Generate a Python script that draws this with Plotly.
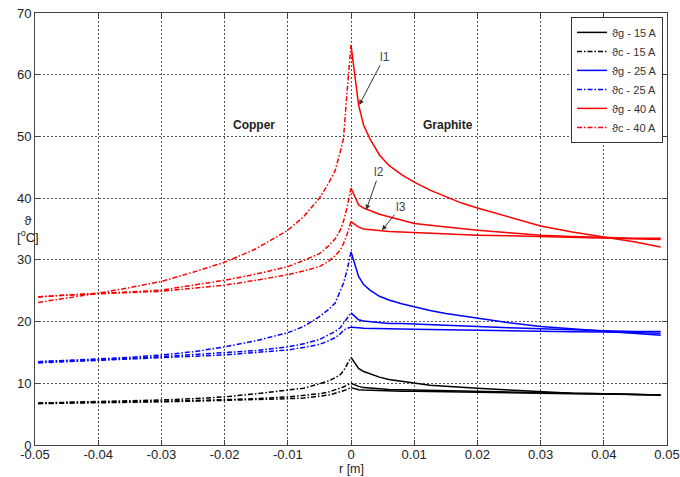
import plotly.graph_objects as go

# ---------------- data ----------------
# radial positions (m): graphite side (r >= 0) and copper side (r <= 0)
r_graphite = [0, 0.0006, 0.0012, 0.002, 0.003, 0.0045, 0.006, 0.008, 0.01, 0.0125,
              0.015, 0.0175, 0.02, 0.025, 0.03, 0.035, 0.04, 0.045, 0.049]
r_copper = [-0.0495, -0.045, -0.04, -0.035, -0.03, -0.025, -0.02, -0.015, -0.01,
            -0.0075, -0.005, -0.0035, -0.0025, -0.0017, -0.0012, -0.0006, 0]

# 15 A
g15_l1 = [14.2, 13.3, 12.4, 11.9, 11.5, 11.0, 10.6, 10.3, 10.0, 9.7, 9.5, 9.3, 9.2, 8.9, 8.6, 8.4, 8.3, 8.2, 8.1]
g15_l2 = [10.0, 9.7, 9.5, 9.3, 9.2, 9.1, 9.0, 8.95, 8.9, 8.85, 8.8, 8.75, 8.7, 8.6, 8.5, 8.4, 8.3, 8.2, 8.1]
g15_l3 = [9.3, 9.1, 8.95, 8.9, 8.85, 8.8, 8.75, 8.7, 8.7, 8.65, 8.6, 8.55, 8.5, 8.45, 8.4, 8.3, 8.25, 8.15, 8.1]
c15_l1 = [6.8, 6.9, 7.0, 7.1, 7.3, 7.5, 7.8, 8.3, 8.9, 9.2, 9.9, 10.4, 10.9, 11.4, 12.0, 13.0, 14.2]
c15_l2 = [6.8, 6.85, 6.9, 7.0, 7.1, 7.2, 7.35, 7.5, 7.8, 8.0, 8.3, 8.6, 8.9, 9.2, 9.4, 9.7, 10.0]
c15_l3 = [6.7, 6.75, 6.8, 6.9, 7.0, 7.1, 7.2, 7.3, 7.5, 7.6, 7.9, 8.1, 8.4, 8.6, 8.8, 9.0, 9.3]

# 25 A
g25_l1 = [31.3, 29.2, 27.3, 26.0, 25.1, 24.1, 23.5, 22.9, 22.4, 21.8, 21.3, 20.9, 20.5, 19.8, 19.2, 18.8, 18.4, 18.1, 17.8]
g25_l2 = [21.4, 20.8, 20.3, 20.1, 20.0, 19.8, 19.7, 19.7, 19.6, 19.5, 19.4, 19.3, 19.2, 19.0, 18.8, 18.6, 18.5, 18.4, 18.4]
g25_l3 = [19.1, 19.0, 19.0, 18.9, 18.9, 18.85, 18.8, 18.8, 18.75, 18.7, 18.7, 18.65, 18.6, 18.5, 18.4, 18.35, 18.3, 18.2, 18.1]
c25_l1 = [13.5, 13.7, 13.9, 14.2, 14.6, 15.1, 15.9, 16.9, 18.2, 19.2, 20.8, 22.0, 23.0, 25.0, 26.2, 28.4, 31.3]
c25_l2 = [13.5, 13.6, 13.8, 14.0, 14.3, 14.6, 14.9, 15.3, 15.9, 16.4, 17.1, 17.8, 18.4, 19.0, 19.7, 20.4, 21.4]
c25_l3 = [13.3, 13.5, 13.7, 13.9, 14.1, 14.3, 14.6, 15.0, 15.4, 15.8, 16.3, 16.9, 17.4, 18.0, 18.6, 18.9, 19.1]

# 40 A
g40_l1 = [64.8, 60.0, 55.1, 51.8, 49.6, 47.0, 45.3, 43.8, 42.6, 41.3, 40.2, 39.2, 38.4, 36.9, 35.5, 34.5, 33.7, 32.9, 32.1]
g40_l2 = [41.6, 40.2, 38.9, 38.4, 38.0, 37.4, 37.0, 36.4, 35.9, 35.6, 35.3, 35.0, 34.8, 34.4, 34.0, 33.8, 33.6, 33.5, 33.5]
g40_l3 = [36.2, 35.7, 35.3, 35.0, 34.9, 34.7, 34.6, 34.5, 34.4, 34.3, 34.2, 34.1, 34.0, 33.9, 33.8, 33.7, 33.6, 33.4, 33.3]
c40_l1 = [23.1, 23.8, 24.6, 25.5, 26.5, 28.0, 29.6, 31.8, 34.8, 37.0, 40.0, 42.5, 44.5, 47.5, 49.6, 57.5, 64.8]
c40_l2 = [24.0, 24.3, 24.6, 24.8, 25.1, 25.9, 26.7, 27.7, 28.9, 29.9, 31.0, 32.3, 33.4, 34.8, 36.2, 38.6, 41.6]
c40_l3 = [24.0, 24.3, 24.5, 24.7, 24.9, 25.4, 25.9, 26.7, 27.6, 28.2, 28.9, 29.8, 30.7, 31.6, 32.6, 34.2, 36.2]

currents = ["15 A", "25 A", "40 A"]
colors = ["#000000", "#0000ff", "#ff0000"]
graphite = [[g15_l1, g15_l2, g15_l3], [g25_l1, g25_l2, g25_l3], [g40_l1, g40_l2, g40_l3]]
copper = [[c15_l1, c15_l2, c15_l3], [c25_l1, c25_l2, c25_l3], [c40_l1, c40_l2, c40_l3]]

x_tickvals = [-0.05, -0.04, -0.03, -0.02, -0.01, 0, 0.01, 0.02, 0.03, 0.04, 0.05]
x_ticktext = ["-0.05", "-0.04", "-0.03", "-0.02", "-0.01", "0", "0.01", "0.02", "0.03", "0.04", "0.05"]
y_tickvals = [0, 10, 20, 30, 40, 50, 60, 70]

region_labels = [("Copper", -0.0153, 51.9), ("Graphite", 0.0153, 51.9)]
# (label, arrow head r, arrow head T, text r, text T)
curve_labels = [("l1", 0.0013, 55.1, 0.0053, 62.9),
                ("l2", 0.0024, 38.1, 0.0045, 44.2),
                ("l3", 0.0049, 34.8, 0.0079, 38.6)]

# ---------------- figure ----------------
DASHDOT = "5px,2px,1.5px,2px"
fig = go.Figure()

# legend traces first (l1 curves), in legend order
for i, cur in enumerate(currents):
    fig.add_trace(go.Scatter(x=r_graphite, y=graphite[i][0], mode="lines",
                             line=dict(color=colors[i], width=1.5),
                             name="ϑg - " + cur, showlegend=True))
    fig.add_trace(go.Scatter(x=r_copper, y=copper[i][0], mode="lines",
                             line=dict(color=colors[i], width=1.5, dash=DASHDOT),
                             name="ϑc - " + cur, showlegend=True))
for i, cur in enumerate(currents):
    for k in (1, 2):
        fig.add_trace(go.Scatter(x=r_graphite, y=graphite[i][k], mode="lines",
                                 line=dict(color=colors[i], width=1.5),
                                 showlegend=False, hoverinfo="skip"))
        fig.add_trace(go.Scatter(x=r_copper, y=copper[i][k], mode="lines",
                                 line=dict(color=colors[i], width=1.5, dash=DASHDOT),
                                 showlegend=False, hoverinfo="skip"))

FONT = "Liberation Sans, Arial, sans-serif"
axis_common = dict(showline=True, linecolor="#444", linewidth=1, mirror="ticks",
                   ticks="inside", ticklen=5, tickcolor="#444",
                   showgrid=True, gridcolor="#555", gridwidth=1, griddash="2px,2px",
                   zeroline=False, automargin=False,
                   tickfont=dict(family=FONT, size=13, color="#222"))

fig.update_xaxes(range=[-0.05, 0.05], tickvals=x_tickvals, ticktext=x_ticktext,
                 ticklabelstandoff=-3, **axis_common)
fig.update_yaxes(range=[0, 70], tickvals=y_tickvals, **axis_common)

annotations = []
for txt, rx, ty in region_labels:
    annotations.append(dict(x=rx, y=ty, xref="x", yref="y", text="<b>" + txt + "</b>",
                            showarrow=False, font=dict(family=FONT, size=12, color="#222")))
for txt, hx, hy, tx, ty in curve_labels:
    annotations.append(dict(x=hx, y=hy, xref="x", yref="y", ax=tx, ay=ty, axref="x", ayref="y",
                            text=txt, showarrow=True, arrowhead=2, arrowsize=1, arrowwidth=1,
                            arrowcolor="#333", font=dict(family=FONT, size=12, color="#444")))
annotations.append(dict(x=-0.031, y=0.5, xref="paper", yref="paper",
                        text="ϑ<br>[<sup>o</sup>C]", showarrow=False, align="center",
                        font=dict(family=FONT, size=13, color="#222")))
annotations.append(dict(x=0.5, y=-0.056, xref="paper", yref="paper", text="r [m]",
                        showarrow=False, yanchor="middle", borderpad=0,
                        font=dict(family=FONT, size=12.5, color="#222")))

fig.update_layout(
    width=680, height=477,
    margin=dict(l=35, r=13, t=13, b=32),
    paper_bgcolor="white", plot_bgcolor="white",
    font=dict(family=FONT, size=12, color="#222"),
    annotations=annotations,
    legend=dict(x=0.9937, y=0.991, xanchor="right", yanchor="top",
                bgcolor="white", bordercolor="#333", borderwidth=1,
                font=dict(family=FONT, size=11, color="#333"),
                tracegroupgap=0, itemwidth=30),
)

fig.write_html("out.html")
